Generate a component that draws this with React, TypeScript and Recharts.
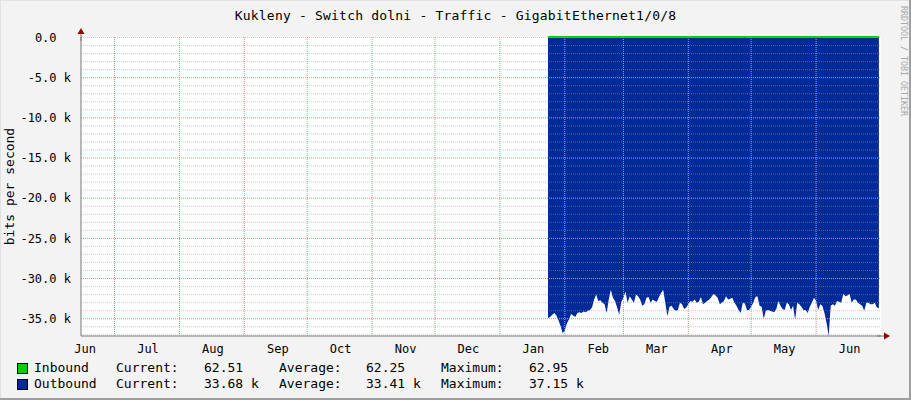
import React from "react";
import {
  ComposedChart,
  Area,
  Line,
  XAxis,
  YAxis,
  CartesianGrid,
  ReferenceLine,
  ReferenceDot,
} from "recharts";

// day numbers counted from 1 Jun of the first year
const monthStarts = [30, 61, 92, 122, 153, 183, 214, 245, 273, 304, 334, 365];
const labelDays = [16, 46, 77, 108, 138, 169, 199, 230, 261, 289, 320, 350, 381];
const monthLabels = ["Jun", "Jul", "Aug", "Sep", "Oct", "Nov", "Dec", "Jan", "Feb", "Mar", "Apr", "May", "Jun"];

const yMajorTicks = [0, -5000, -10000, -15000, -20000, -25000, -30000, -35000];
const yMinorTicks = Array.from({ length: 38 }, (_, i) => -i * 1000).filter((v) => v === 0 || v % 5000 !== 0);

// outbound traffic (kbit/s), one value per day from day 237
const outStart = 237;
const outboundK = [
  34.9, 34.8, 34.5, 34.3, 34.6, 35.2, 35.9, 36.8, 36.5, 35.6,
  35.1, 34.4, 34.6, 34.8, 34.3, 34.2, 34.3, 34.1, 34.2, 34.0,
  33.9, 33.6, 32.6, 32.0, 32.8, 32.7, 33.0, 33.2, 34.3, 32.6,
  31.4, 32.4, 32.8, 33.6, 34.5, 32.9, 32.4, 31.6, 33.0, 32.2,
  32.6, 33.0, 32.0, 32.2, 32.6, 33.4, 33.2, 32.4, 32.3,
  33.0, 32.6, 32.8, 32.9, 32.3, 31.8, 31.4, 33.0, 34.7, 33.5,
  33.4, 33.8, 34.0, 33.9, 33.0, 33.2, 33.8, 33.6, 33.2, 32.8,
  32.9, 32.6, 33.0, 32.9, 32.3, 33.2, 33.0, 32.8, 32.6, 32.3,
  31.9, 32.1, 32.4, 33.2, 33.0, 32.8, 32.2, 32.6, 32.5, 32.4,
  33.0, 33.4, 33.9, 34.3, 33.0, 33.1, 33.9, 33.9, 33.5, 33.0,
  32.3, 32.2, 33.4, 33.5,
  35.0, 34.0, 33.9, 34.0, 34.1, 34.2, 33.8, 32.8, 33.4, 33.8,
  33.9, 33.0, 33.2, 33.9, 33.4, 35.1, 33.0, 33.2, 33.5, 33.9,
  33.9, 34.3, 33.5, 33.0, 32.4, 32.8, 33.9, 33.2, 33.4, 34.3,
  35.5, 37.15, 33.4, 33.2, 33.4, 32.8, 32.9, 33.0, 31.9, 32.2,
  32.1, 31.9, 33.0, 32.6, 32.6, 33.0, 33.2, 33.4, 34.0, 33.0,
  33.0, 33.2, 33.2, 33.0, 33.6, 33.68,
];

// inbound traffic (bit/s), sampled days
const inboundDays = [237, 260, 290, 320, 350, 380, 395];
const inboundBps = [62.9, 62.4, 62.1, 62.3, 62.2, 62.0, 62.51];

const legendNames = ["Inbound", "Outbound"];
const legendColors = ["#00CF00", "#002A97"];
const legendCurrent = ["62.51", "33.68 k"];
const legendAverage = ["62.25", "33.41 k"];
const legendMaximum = ["62.95", "37.15 k"];

const data = outboundK.map((v, i) => {
  const day = outStart + i;
  const k = inboundDays.indexOf(day);
  return { day, out: -v * 1000, in: k >= 0 ? inboundBps[k] : undefined };
});

const mono = '"DejaVu Sans Mono", monospace';
const yDomain = [-37150, 63];
const xDomain = [14, 396];

const fmtY = (v: number) => (v === 0 ? "0.0\u00a0\u00a0" : `${(v / 1000).toFixed(1)} k`);
const fmtX = (v: number) => monthLabels[labelDays.indexOf(v)] ?? "";

const UpArrow = (p: any) => (
  <g>
    <line x1={p.cx} y1={p.cy + 4} x2={p.cx} y2={p.cy - 4} stroke="#777" />
    <polygon points={`${p.cx - 3.5},${p.cy - 3} ${p.cx + 3.5},${p.cy - 3} ${p.cx},${p.cy - 9}`} fill="#9a0000" />
  </g>
);
const RightArrow = (p: any) => (
  <g>
    <line x1={p.cx - 4} y1={p.cy} x2={p.cx + 4} y2={p.cy} stroke="#777" />
    <polygon points={`${p.cx + 3},${p.cy - 3.5} ${p.cx + 3},${p.cy + 3.5} ${p.cx + 9},${p.cy}`} fill="#9a0000" />
  </g>
);

const legendHeads = ["Current:", "Average:", "Maximum:"];
const legendVals = [legendCurrent, legendAverage, legendMaximum];
const headLeft = [116, 279, 441];
const valLeft = [204, 366, 529];

export default function App() {
  return (
    <div
      style={{
        position: "absolute",
        left: 0,
        top: 0,
        width: 911,
        height: 400,
        background: "#F3F3F3",
        boxShadow: "inset -2px -2px 0 #9E9E9E, inset 1px 1px 0 #E2E2E2",
        fontFamily: mono,
      }}
    >
      <ComposedChart
        width={911}
        height={400}
        data={data}
        margin={{ top: 37, right: 30, bottom: 34, left: 11 }}
      >
        <CartesianGrid horizontal={false} vertical={false} fill="#fff" />
        <XAxis
          dataKey="day"
          type="number"
          domain={xDomain}
          ticks={labelDays}
          interval={0}
          tickFormatter={fmtX}
          tickLine={false}
          tickMargin={2}
          height={30}
          axisLine={{ stroke: "#777" }}
          tick={{ fill: "#000", fontSize: 12, fontFamily: mono }}
        />
        <YAxis
          type="number"
          domain={yDomain}
          ticks={yMajorTicks}
          interval={0}
          tickFormatter={fmtY}
          tickLine={false}
          tickMargin={4}
          width={70}
          axisLine={{ stroke: "#777" }}
          tick={{ fill: "#000", fontSize: 12, fontFamily: mono }}
        />
        <Area
          dataKey="out"
          type="linear"
          baseValue={0}
          fill="#002A97"
          fillOpacity={1}
          stroke="none"
          isAnimationActive={false}
        />
        <Line
          dataKey="in"
          type="linear"
          stroke="#00CF00"
          strokeWidth={2}
          dot={false}
          connectNulls
          isAnimationActive={false}
        />
        {yMinorTicks.map((v) => (
          <ReferenceLine
            key={`mn${v}`}
            y={v}
            stroke="#9a9a9a"
            strokeOpacity={0.5}
            strokeDasharray="1 1"
            zIndex={600}
          />
        ))}
        <CartesianGrid
          horizontalValues={yMajorTicks.filter((v) => v !== 0)}
          verticalValues={monthStarts}
          stroke="#FF8080"
          strokeDasharray="1 1"
          zIndex={601}
        />
        <ReferenceDot x={xDomain[0]} y={yDomain[1]} shape={UpArrow} zIndex={700} />
        <ReferenceDot x={xDomain[1]} y={yDomain[0]} shape={RightArrow} zIndex={700} />
      </ComposedChart>

      <svg
        width={911}
        height={400}
        style={{ position: "absolute", left: 0, top: 0, pointerEvents: "none" }}
      >
        <text x={455.5} y={20} textAnchor="middle" fontSize={13} letterSpacing={0.2} fontFamily={mono} fill="#000">
          Kukleny - Switch dolni - Traffic - GigabitEthernet1/0/8
        </text>
        <text transform="translate(14,186.5) rotate(-90)" textAnchor="middle" fontSize={13} fontFamily={mono} fill="#000">
          bits per second
        </text>
        <text transform="translate(900.5,6) rotate(90)" fontSize={8.3} fontFamily={mono} fill="#A8A8A8">
          RRDTOOL / TOBI OETIKER
        </text>
      </svg>

      {legendNames.map((name, r) => (
        <div
          key={name}
          style={{ position: "absolute", left: 0, top: 360 + r * 16, height: 16, width: 911, fontSize: 13, lineHeight: "16px", whiteSpace: "pre" }}
        >
          <div
            style={{
              position: "absolute",
              left: 17,
              top: 3,
              width: 9,
              height: 9,
              background: legendColors[r],
              border: "1px solid #000",
            }}
          />
          <span style={{ position: "absolute", left: 34 }}>{name}</span>
          {legendHeads.map((h, j) => (
            <React.Fragment key={h}>
              <span style={{ position: "absolute", left: headLeft[j] }}>{h}</span>
              <span style={{ position: "absolute", left: valLeft[j] }}>{legendVals[j][r]}</span>
            </React.Fragment>
          ))}
        </div>
      ))}
    </div>
  );
}
